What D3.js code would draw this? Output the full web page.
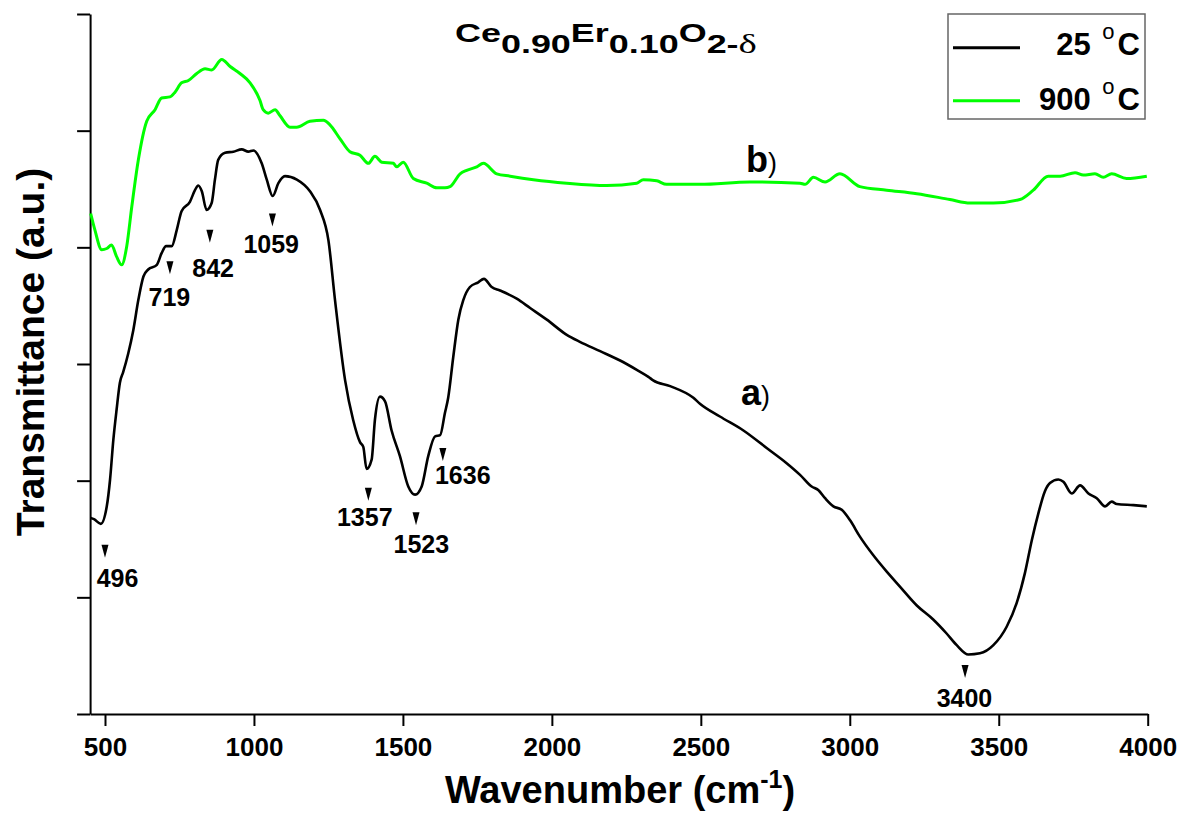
<!DOCTYPE html>
<html><head><meta charset="utf-8">
<script src="https://cdn.jsdelivr.net/npm/d3@7"></script>
<style>body{margin:0;background:#fff}svg{display:block;font-family:"Liberation Sans",Arial,sans-serif}</style>
</head><body><svg id="c" width="1185" height="813"></svg>
<script>
// ---- data (wavenumber cm^-1, transmittance a.u.) ----
const wnA=[452,463,486,506,517,528,539,550,561,578,595,612,629,645,674,690,705,724,741,757,785,802,813,825,841,858,869,880,903,931,959,981,998,1026,1043,1063,1082,1104,1144,1188,1222,1250,1272,1306,1333,1356,1367,1378,1395,1406,1423,1440,1462,1490,1518,1541,1563,1585,1608,1625,1641,1652,1669,1686,1703,1725,1753,1772,1798,1826,1882,1927,1983,2050,2094,2162,2229,2285,2324,2340,2397,2475,2497,2564,2643,2721,2788,2833,2872,2894,2917,2945,2973,3001,3034,3079,3124,3169,3225,3280,3325,3359,3398,3437,3482,3527,3560,3588,3611,3633,3655,3672,3700,3717,3745,3773,3801,3829,3857,3879,3896,3952,3997];
const tA=[16.8,16.7,16.3,17.8,20.1,23.5,26.1,28.4,29.3,30.9,32.9,35.5,37.5,38.1,38.5,39.5,40.1,40.1,41.5,43.1,43.9,44.9,45.3,44.8,43.2,43.8,45.8,47.5,48.1,48.2,48.4,48.2,48.3,47.2,45.8,44.4,45.5,46.1,45.8,44.8,43.2,40.6,35.5,28.6,25.2,23.3,22.9,21.0,21.8,25.2,27.2,26.8,24.3,22.1,19.5,18.8,19.5,22.1,23.8,23.9,25.8,27.1,30.6,33.8,35.5,36.6,37.0,37.3,36.6,36.3,35.6,34.8,33.8,32.5,31.9,31.1,30.3,29.5,28.9,28.6,28.1,27.1,26.6,25.5,24.3,22.8,21.5,20.5,19.5,19.2,18.5,17.8,17.5,16.6,15.2,13.6,12.2,10.9,9.3,8.1,6.9,5.9,5.1,5.2,5.9,7.5,9.5,12.1,14.9,17.2,19.1,19.8,20.1,19.9,18.9,19.6,18.9,18.5,17.8,18.2,18.0,17.9,17.8];
const wnB=[452,466,489,506,522,539,556,573,590,612,640,668,690,718,735,757,780,808,836,858,892,920,953,987,1020,1031,1048,1071,1087,1121,1143,1188,1233,1255,1289,1322,1356,1384,1406,1429,1468,1479,1501,1535,1580,1614,1641,1658,1692,1714,1748,1770,1815,1860,1938,2050,2184,2285,2307,2352,2385,2497,2665,2833,2850,2878,2917,2967,3034,3124,3225,3336,3404,3482,3571,3616,3666,3706,3756,3784,3823,3851,3879,3929,3997];
const tB=[42.9,41.5,39.8,39.9,40.2,39.2,38.5,40.1,43.5,47.5,50.8,51.8,52.8,52.9,53.3,54.1,54.3,54.9,55.3,55.2,56.1,55.5,54.9,54.1,52.6,51.8,51.5,51.8,51.3,50.3,50.3,50.8,50.9,50.5,49.3,48.2,47.9,47.2,47.8,47.3,47.2,46.9,47.3,45.9,45.5,45.1,45.1,45.2,46.3,46.6,46.9,47.2,46.3,46.1,45.8,45.5,45.3,45.5,45.8,45.7,45.4,45.4,45.6,45.5,45.4,46.0,45.6,46.3,45.2,44.9,44.6,44.1,43.8,43.8,44.1,44.9,46.1,46.1,46.4,46.2,46.3,46.0,46.3,45.9,46.1];
const seriesNames=["25","900"];
const xTicks=[500,1000,1500,2000,2500,3000,3500,4000];
const xMinor=[750,1250,1750,2250,2750,3250,3750];
const yTicks=[0,10,20,30,40,50,60];
const yMinor=[5,15,25,35,45,55];
// peak annotations on curve a)
const peakText=["496","719","842","1059","1357","1523","1636","3400"];
const peakMarkWn=[500,718,852,1062,1384,1544,1634,3387];
const peakMarkT=[14.5,38.8,41.5,42.9,19.4,17.3,22.8,4.2];
const peakTextWn=[542,716,863,1058,1372,1562,1701,3385];
const peakTextT=[10.9,35.0,37.5,39.5,16.1,13.8,19.7,0.6];

const svg=d3.select("#c");
const x=d3.scaleLinear().domain([450,4000]).range([90.1,1147.7]);
const y=d3.scaleLinear().domain([0,60]).range([714,14]);
const F='"Liberation Sans",Arial,sans-serif';

// axes
const gx=svg.append("g").attr("transform","translate(0,714)");
gx.call(d3.axisBottom(x).tickValues(xMinor).tickSize(6).tickSizeOuter(0).tickFormat(""));
gx.call(d3.axisBottom(x).tickValues(xTicks).tickSize(12).tickSizeOuter(0).tickPadding(12).tickFormat(d3.format("d")));
const gy=svg.append("g").attr("transform","translate(90.1,0)");
gy.call(d3.axisLeft(y).tickValues(yMinor).tickSize(7).tickSizeOuter(0).tickFormat(""));
gy.call(d3.axisLeft(y).tickValues(yTicks).tickSize(13).tickSizeOuter(0).tickFormat(""));
svg.selectAll(".domain,.tick line").attr("stroke","#000").attr("stroke-width",2);
gx.selectAll("text").attr("font-size",26).attr("font-weight","bold").attr("font-family",F).attr("fill","#000");

// lines
const line=d3.line().x(d=>x(d[0])).y(d=>y(d[1])).curve(d3.curveMonotoneX);
svg.append("path").datum(wnB.map((w,i)=>[w,tB[i]])).attr("d",line).attr("fill","none").attr("stroke","#00ff00").attr("stroke-width",3).attr("stroke-linejoin","round");
svg.append("path").datum(wnA.map((w,i)=>[w,tA[i]])).attr("d",line).attr("fill","none").attr("stroke","#000").attr("stroke-width",2.6).attr("stroke-linejoin","round");

// peak markers
peakText.forEach((t,i)=>{
  const mx=x(peakMarkWn[i]), my=y(peakMarkT[i]);
  svg.append("path").attr("d",`M${mx-3.5},${my}L${mx+3.5},${my}L${mx},${my+13}Z`).attr("fill","#000");
  svg.append("text").attr("x",x(peakTextWn[i])).attr("y",y(peakTextT[i])).attr("text-anchor","middle")
    .attr("font-size",25).attr("font-weight","bold").attr("font-family",F).text(t);
});

// axis titles
const xt=svg.append("text").attr("x",620).attr("y",803).attr("text-anchor","middle").attr("font-size",38).attr("font-weight","bold").attr("font-family",F);
xt.append("tspan").text("Wavenumber (cm");
xt.append("tspan").attr("font-size",25).attr("dy",-15).text("-1");
xt.append("tspan").attr("dy",15).text(")");
svg.append("text").attr("transform","translate(44,352) rotate(-90)").attr("text-anchor","middle").attr("font-size",39).attr("font-weight","bold").attr("font-family",F).text("Transmittance (a.u.)");

// title
const tt=svg.append("text").attr("font-size",25).attr("font-weight","bold").attr("font-family",F);
tt.append("tspan").text("Ce");
tt.append("tspan").attr("dy",11).text("0.90");
tt.append("tspan").attr("dy",-11).text("Er");
tt.append("tspan").attr("dy",11).text("0.10");
tt.append("tspan").attr("dy",-11).text("O");
tt.append("tspan").attr("dy",11).text("2-");
tt.append("tspan").attr("font-family","'Liberation Serif',serif").attr("font-weight","normal").attr("font-size",27).text("δ");
const bw=tt.node().getBBox().width;
tt.attr("transform",`translate(455,42) scale(${302/bw},1)`);

// series labels
const la=svg.append("text").attr("x",741).attr("y",405).attr("font-family",F);
la.append("tspan").attr("font-size",36).attr("font-weight","bold").text("a");
la.append("tspan").attr("font-size",27).text(")");
const lb=svg.append("text").attr("x",746).attr("y",172).attr("font-family",F);
lb.append("tspan").attr("font-size",36).attr("font-weight","bold").text("b");
lb.append("tspan").attr("font-size",27).text(")");

// legend
svg.append("rect").attr("x",948).attr("y",14).attr("width",197).attr("height",105).attr("fill","#fff").attr("stroke","#666").attr("stroke-width",1.5);
const legColors=["#000","#00ff00"], legY=[47.7,100.7], legBase=[55,110];
seriesNames.forEach((n,i)=>{
  svg.append("line").attr("x1",953).attr("x2",1020).attr("y1",legY[i]).attr("y2",legY[i]).attr("stroke",legColors[i]).attr("stroke-width",3);
  const t=svg.append("text").attr("x",1140).attr("y",legBase[i]).attr("text-anchor","end").attr("font-size",31).attr("font-weight","bold").attr("font-family",F);
  t.append("tspan").text(n+" ");
  t.append("tspan").attr("font-size",22).attr("font-weight","normal").attr("dx",3).attr("dy",-16).text("o");
  t.append("tspan").attr("dx",3).attr("dy",16).text("C");
});
</script></body></html>
